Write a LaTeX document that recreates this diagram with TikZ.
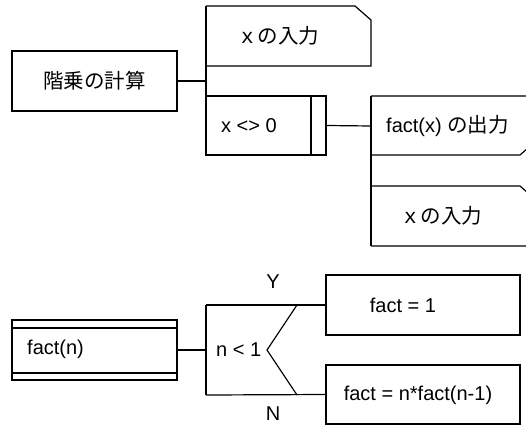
\documentclass[tikz,border=0pt]{standalone}
\usepackage{fontspec}
\setmainfont{Liberation Sans}
\newfontfamily\jpfont{Noto Sans CJK JP}
\tikzset{
  line/.style={line width=1.2pt, line join=miter},
  lbl/.style={inner sep=0pt, font=\fontsize{20}{22}\selectfont, anchor=center},
  jlbl/.style={inner sep=0pt, font=\fontsize{20.5}{22}\selectfont\jpfont, anchor=center},
  boxnode/.style={line, draw, rectangle, inner sep=0pt},
}
\begin{document}
\begin{tikzpicture}[x=1pt, y=-1pt]
\useasboundingbox (0,0) rectangle (526,425);
\begin{scope}
\clip (0,0) rectangle (526,425);

% ---- main routine ----
\node[boxnode, minimum width=165pt, minimum height=60pt] (calc) at (94.5,81) {};
\node[jlbl] (calctext) at (94.5,81) {階乗の計算};

% bracket joining the children
\coordinate (br) at (206,81);
\draw[line] (206,6) -- (206,155);
\draw[line] (calc.east) -- (br);

% input step (cut top-right corner)
\coordinate (in1nw) at (206,6);
\draw[line] (in1nw) -- (355,6) -- (371,20) -- (371,66) -- (206,66);
\node[jlbl] (in1) at (278,36) {ｘの入力};

% loop box with double right edge
\node[boxnode, minimum width=120pt, minimum height=59pt] (loop) at (266,125.5) {};
\draw[line] (311,96) -- (311,155);
\node[lbl, anchor=west] (looptext) at (221,126) {x <> 0};

% loop body bracket
\draw[line] (371,96) -- (371,246);
\coordinate (body) at (371,126);
\draw[line] (loop.east) -- (body);

% output step (cut bottom-right corner)
\draw[line] (371,96) -- (540,96) -- (540,141) -- (536,141) -- (520,155) -- (371,155);
\node[lbl, anchor=west] (out) at (386,126) {fact(x) {\jpfont\fontsize{20.5}{22}\selectfont の出力}};

% second input step (cut top-right corner)
\draw[line] (371,186) -- (520,186) -- (536,200) -- (540,200) -- (540,246) -- (371,246);
\node[jlbl] (in2) at (441,216) {ｘの入力};

% ---- function definition ----
\node[boxnode, minimum width=165pt, minimum height=60pt] (factn) at (94.5,350) {};
\draw[line] (12,328) -- (177,328);
\draw[line] (12,373) -- (177,373);
\node[lbl, anchor=west] (factntext) at (27,349) {fact(n)};

% selection
\coordinate (cw) at (206,350);
\draw[line] (factn.east) -- (cw);
\draw[line] (206,305) -- (206,395);
\node[lbl, anchor=west] (cond) at (216,350) {n < 1};

\node[boxnode, minimum width=194pt, minimum height=60pt] (yes) at (423,305) {};
\node[boxnode, minimum width=194pt, minimum height=59pt] (no) at (423,394.5) {};
\draw[line] (206,305) -- (yes.west);
\draw[line] (206,395) -- (no.west);
\draw[line] (297,305) -- (267,350) -- (297,395);
\node[lbl] (ylab) at (273,282) {Y};
\node[lbl] (nlab) at (273,414) {N};
\node[lbl] (yestext) at (403,305) {fact = 1};
\node[lbl] (notext) at (418,395) {fact = n*fact(n-1)};
\end{scope}
\end{tikzpicture}
\end{document}
